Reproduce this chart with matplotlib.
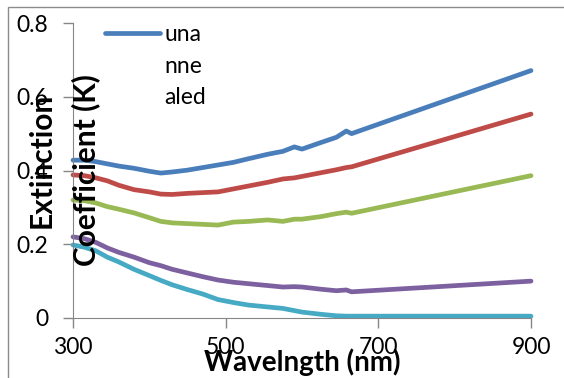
import matplotlib
matplotlib.use("Agg")
from matplotlib import pyplot as plt
from matplotlib.patches import Rectangle

# wavelength grid (nm) and extinction coefficient
wavelength = [300, 315, 330, 345, 360, 380, 400, 415, 430, 450, 470, 490,
              510, 530, 555, 575, 590, 600, 625, 645, 658, 665, 900]
k_blue = [.428, .428, .424, .418, .412, .406, .398, .393, .396, .401, .408, .415,
          .422, .432, .444, .452, .464, .458, .476, .490, .507, .500, .671]
k_red = [.388, .386, .380, .372, .360, .348, .342, .336, .335, .338, .340, .342,
         .350, .358, .368, .377, .380, .384, .394, .402, .408, .410, .553]
k_green = [.320, .318, .312, .302, .295, .285, .272, .262, .258, .256, .254, .252,
           .260, .262, .266, .262, .268, .268, .275, .283, .287, .284, .386]
k_purple = [.220, .215, .205, .190, .178, .165, .150, .142, .132, .122, .112, .103,
            .097, .093, .088, .084, .085, .084, .078, .074, .076, .071, .100]
k_cyan = [.198, .192, .182, .165, .152, .132, .115, .102, .090, .077, .065, .050,
          .042, .035, .030, .026, .020, .016, .010, .006, .005, .005, .005]

series = [k_blue, k_red, k_green, k_purple, k_cyan]
colors = ["#4A7EBB", "#BE4B48", "#98B954", "#7D60A0", "#46AAC5"]
# legend label is wrapped in three pieces in the original
legend_lines = ["una", "nne", "aled"]

xticks = [300, 500, 700, 900]
yticks = [0, 0.2, 0.4, 0.6, 0.8]
yticklabels = ["0", "0.2", "0.4", "0.6", "0.8"]

plt.rcParams["font.family"] = ["Lato", "DejaVu Sans"]

fig = plt.figure(figsize=(5.64, 3.78), dpi=100)
ax = fig.add_axes([73/564, 1-318/378, (531-73)/564, (318-23)/378])

lines = []
for k, c in zip(series, colors):
    ln, = ax.plot(wavelength, k, color=c, lw=3.4, solid_capstyle="round",
                  solid_joinstyle="round", clip_on=False)
    lines.append(ln)

ax.set_xlim(300, 900)
ax.set_ylim(0, 0.8)
ax.set_xticks(xticks)
ax.set_yticks(yticks)
ax.set_yticklabels(yticklabels)
ax.tick_params(labelsize=16.5, color="#868686", length=7, width=1, direction="out")
ax.tick_params(axis="x", pad=7)
ax.tick_params(axis="y", pad=11)
for s in ["top", "right"]:
    ax.spines[s].set_visible(False)
for s in ["left", "bottom"]:
    ax.spines[s].set_color("#868686")

ax.set_xlabel("Wavelngth (nm)", fontsize=20, fontweight="bold", labelpad=-7)
fig.text(42/564, 1-160/378, "Extinction", rotation=90, fontsize=21.5,
         fontweight="bold", ha="center", va="center")
fig.text(86/564, 1-170/378, "Coefficient (K)", rotation=90, fontsize=21.5,
         fontweight="bold", ha="center", va="center")

leg = ax.legend([lines[0]], [legend_lines[0]], loc="upper left",
                bbox_to_anchor=(0.05, 1.027), frameon=False, fontsize=16.5,
                handlelength=2.4, handletextpad=0.2, borderaxespad=0)
first = leg.get_texts()[0]
for i, word in enumerate(legend_lines[1:], start=1):
    ax.annotate(word, xy=(0, 0.5), xycoords=first, xytext=(0, -22.7 * i),
                textcoords="offset points", va="center", ha="left",
                fontsize=16.5, zorder=10)

fig.patches.append(Rectangle((8/564, -0.1), 1.2, 1.1 - 7/378, fill=False,
                             edgecolor="#8c8c8c", lw=1, transform=fig.transFigure))

fig.canvas.draw()
fig.savefig("out.png", dpi=100)
